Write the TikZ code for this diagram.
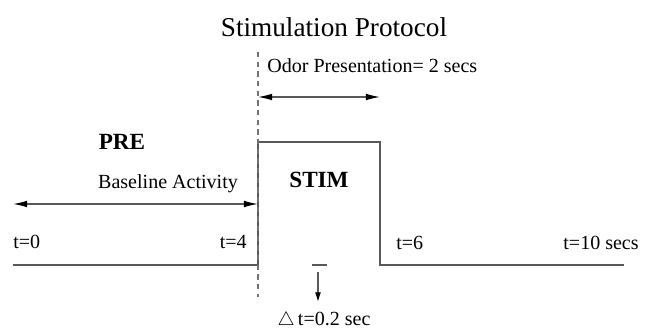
\documentclass[tikz,border=0pt]{standalone}
\usepackage{fontspec}
\setmainfont{Liberation Serif}
\usepackage{tikz}
\usetikzlibrary{arrows.meta}
\tikzset{
>={Latex[length=8pt, width=3.8pt, color=black]},
every node/.style={inner sep=0pt},
signal/.style={draw=black!65, line width=0.7pt},
span/.style={<->, draw=black!65, line width=0.7pt},
}

\begin{document}
\begin{tikzpicture}[
  x=0.02cm, y=-0.02cm,
  lbl/.style={font=\fontsize{11.4}{13}\selectfont},
  phase/.style={font=\fontsize{13.2}{15}\selectfont\bfseries},
  marker/.style={draw=black!55, line width=0.7pt, dash pattern=on 3pt off 2.5pt},
]
\useasboundingbox (0,0) rectangle (650,331);

%% ---- title ----
\node[anchor=base, font=\fontsize{15.5}{18}\selectfont] (title) at (334,37) {Stimulation Protocol};

%% ---- pulse corners ----
\coordinate (b0)   at (13,265);
\coordinate (b4)   at (258,265);
\coordinate (top4) at (258,142);
\coordinate (top6) at (380,142);
\coordinate (b6)   at (380,265);
\coordinate (b10)  at (624,265);
\draw[signal] (b0) -- (b4) -- (top4) -- (top6) -- (b6) -- (b10);

%% ---- onset marker ----
\coordinate (mtop) at (258,52);
\coordinate (mbot) at (258,297);
\draw[marker] (mtop) -- (mbot);

%% ---- odor window ----
\node[lbl, anchor=base west] (odor) at (267,73) {Odor Presentation= 2 secs};
\coordinate (odl) at (258,97);
\coordinate (odr) at (380,97);
\draw[span] (odl) -- (odr);

%% ---- baseline window ----
\node[phase, anchor=base] (pre) at (122,150) {PRE};
\node[lbl, anchor=base] (base) at (168,189) {Baseline Activity};
\coordinate (bll) at (13,204);
\coordinate (blr) at (258,204);
\draw[span] (bll) -- (blr);
\node[phase, anchor=base] (stim) at (319,188) {STIM};

%% ---- time stamps ----
\node[lbl, anchor=base west] (t0)  at (13,249)  {t=0};
\node[lbl, anchor=base east] (t4)  at (247,249) {t=4};
\node[lbl, anchor=base west] (t6)  at (396,250) {t=6};
\node[lbl, anchor=base east] (t10) at (639,250) {t=10 secs};

%% ---- sampling step ----
\coordinate (dtl) at (312,265);
\coordinate (dtr) at (327,265);
\draw[signal] (dtl) -- (dtr);
\coordinate (dta) at (318,272);
\coordinate (dtb) at (318,302);
\node[lbl, anchor=base] (dt) at (324,325) {$\triangle$\,t=0.2 sec};
\draw[signal, -{Latex[length=5.5pt, width=3.4pt, color=black]}] (dta) -- (dtb);
\end{tikzpicture}
\end{document}
